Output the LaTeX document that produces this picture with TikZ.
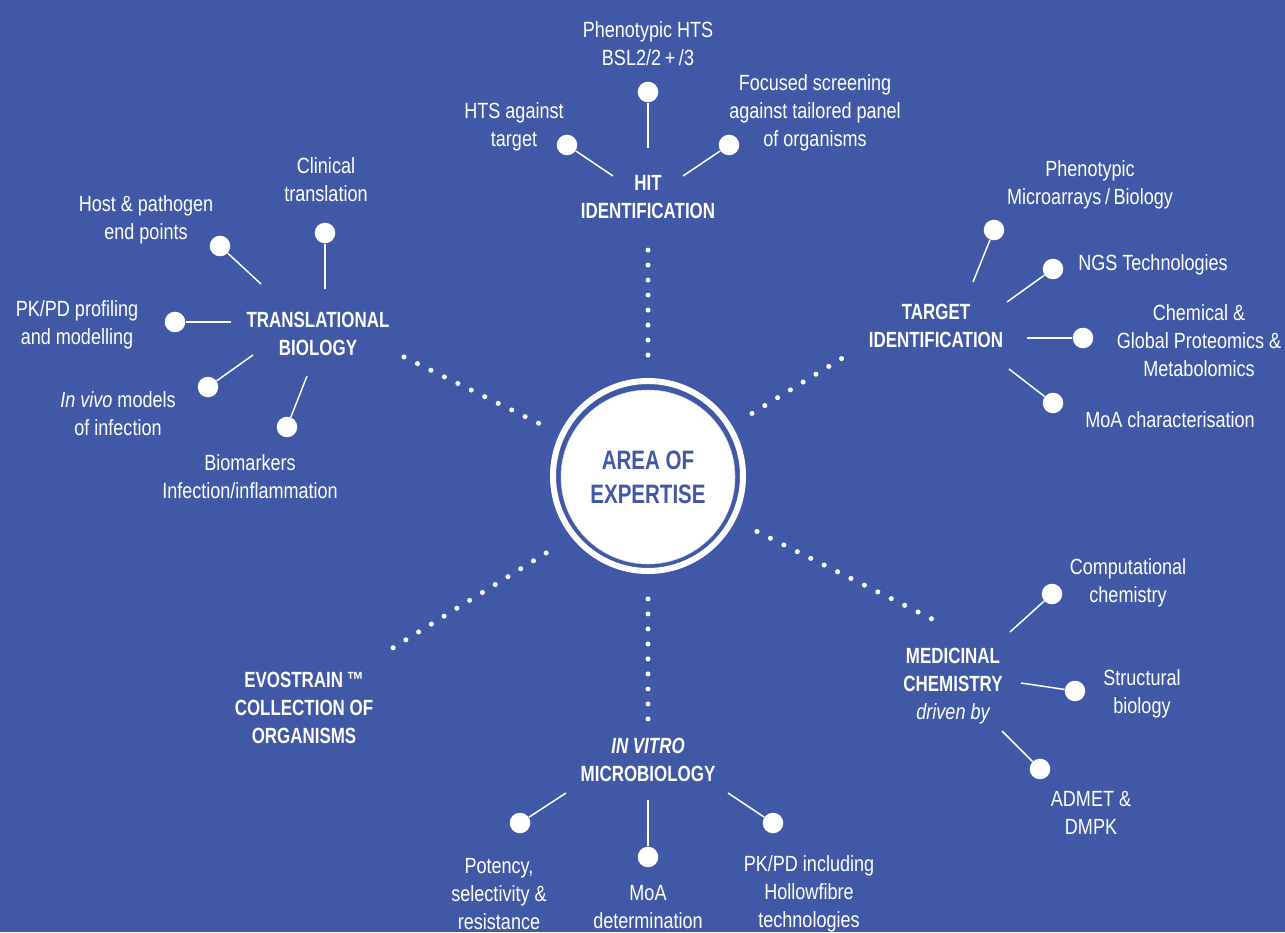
\documentclass[tikz,border=0pt]{standalone}
\usepackage{fontspec}
\setmainfont{Liberation Sans}[FakeStretch=0.82]
\newfontfamily\headfont{Liberation Sans}[FakeStretch=0.77]
\usetikzlibrary{positioning}
\definecolor{bgblue}{HTML}{4158A6}
\tikzset {
  x=0.75pt, y=-0.75pt,
  % leaf texts round a hub
  leaf/.style={text=white, align=center, inner sep=0pt, font=\fontsize{16.5}{21}\selectfont},
  % hub headings
  hub/.style={text=white, align=center, inner sep=0pt, font=\headfont\bfseries\fontsize{16.5}{21}\selectfont},
  % white bullet at the end of a spoke
  bullet/.style={circle, fill=white, minimum size=15.4pt, inner sep=0pt},
  spoke/.style={white, line width=1.1pt},
  % dotted ray from the core to a hub
  dotline/.style={white, line width=3.8pt, line cap=round, dash pattern=on 0pt off 11.25pt, shorten <=26pt},
}
\begin{document}
\begin{tikzpicture}
      \path[use as bounding box] (0,0) rectangle (1285,932);
      \fill[bgblue] (0,0) rectangle (1285,932);

      % core
      \node[circle, draw=white, line width=4.5pt, minimum size=142.5pt] (ring) at (648,476) {};
      \node[circle, fill=white, draw=bgblue!25, line width=0.4pt, minimum size=130.5pt, align=center,
            text=bgblue, font=\headfont\bfseries\fontsize{20}{25.5}\selectfont] (core) at (648,477) {AREA OF\\EXPERTISE};

      % hubs
      \node[hub] (hit) at (648,197) {HIT\\IDENTIFICATION};
      \node[hub] (target) at (936,326) {TARGET\\IDENTIFICATION};
      \node[hub] (transl) at (318,334) {TRANSLATIONAL\\BIOLOGY};
      \node[hub] (medchem) at (953,686) {MEDICINAL\\CHEMISTRY\\{\normalfont\itshape driven by}};
      \node[hub] (evo) at (304,708) {EVOSTRAIN\,™\\COLLECTION OF\\ORGANISMS};
      \node[hub] (vitro) at (648,760) {\itshape IN VITRO\\MICROBIOLOGY};

      % ends of the dotted rays
      \coordinate (hit-end) at (648,237);
      \coordinate (target-end) at (849,354);
      \coordinate (transl-end) at (402,356);
      \coordinate (medchem-end) at (942,624);
      \coordinate (evo-end) at (383,654);
      \coordinate (vitro-end) at (648,719);

      \draw[dotline] (core) -- (hit-end);
      \draw[dotline] (core) -- (target-end);
      \draw[dotline] (core) -- (transl-end);
      \draw[dotline] (core) -- (medchem-end);
      \draw[dotline, shorten <=30pt] (core.219) -- (evo-end);
      \draw[dotline] (core) -- (vitro-end);

      % hit identification
      \node[bullet] (hts) at (567,145) {};
      \node[bullet] (pheno) at (648,92) {};
      \node[bullet] (focus) at (729,145) {};
      \node[leaf] (hts-t) at (514,127) {HTS against\\target};
      \node[leaf] (pheno-t) at (648,44) {Phenotypic HTS\\BSL2/2\,+\,/3};
      \node[leaf] (focus-t) at (815,113) {Focused screening\\against tailored panel\\of organisms};
      \coordinate (hit-a) at (613,176);
      \coordinate (hit-b) at (648,148);
      \coordinate (hit-c) at (683,176);
      \draw[spoke] (hit-a) -- (hts);
      \draw[spoke] (hit-b) -- (pheno);
      \draw[spoke] (hit-c) -- (focus);

      % translational biology
      \node[bullet] (clin) at (325,233) {};
      \node[bullet] (host) at (220,246) {};
      \node[bullet] (pkpd) at (175,322) {};
      \node[bullet] (invivo) at (208,387) {};
      \node[bullet] (biom) at (287,427) {};
      \node[leaf] (clin-t) at (326,180) {Clinical\\translation};
      \node[leaf] (host-t) at (146,220) {Host \& pathogen\\end points};
      \node[leaf] (pkpd-t) at (77,325) {PK/PD profiling\\and modelling};
      \node[leaf] (invivo-t) at (118,414) {\textit{In vivo} models\\of infection};
      \node[leaf] (biom-t) at (250,477) {Biomarkers\\Infection/inflammation};
      \coordinate (transl-a) at (325,289);
      \coordinate (transl-b) at (261,284);
      \coordinate (transl-c) at (231,322);
      \coordinate (transl-d) at (253,355);
      \coordinate (transl-e) at (307,376);
      \draw[spoke] (transl-a) -- (clin);
      \draw[spoke] (transl-b) -- (host);
      \draw[spoke] (transl-c) -- (pkpd);
      \draw[spoke] (transl-d) -- (invivo);
      \draw[spoke] (transl-e) -- (biom);

      % target identification
      \node[bullet] (micro) at (994,230) {};
      \node[bullet] (ngs) at (1053,269) {};
      \node[bullet] (chem) at (1083,338) {};
      \node[bullet] (moac) at (1053,403) {};
      \node[leaf] (micro-t) at (1090,185) {Phenotypic\\Microarrays\,/\,Biology};
      \node[leaf] (ngs-t) at (1153,265) {NGS Technologies};
      \node[leaf] (chem-t) at (1199,341) {Chemical \&\\Global Proteomics \&\\Metabolomics};
      \node[leaf] (moac-t) at (1170,420) {MoA characterisation};
      \coordinate (target-a) at (973,282);
      \coordinate (target-b) at (1007,302);
      \coordinate (target-c) at (1027,338);
      \coordinate (target-d) at (1009,369);
      \draw[spoke] (target-a) -- (micro);
      \draw[spoke] (target-b) -- (ngs);
      \draw[spoke] (target-c) -- (chem);
      \draw[spoke] (target-d) -- (moac);

      % medicinal chemistry
      \node[bullet] (comp) at (1052,594) {};
      \node[bullet] (struct) at (1075,691) {};
      \node[bullet] (admet) at (1040,769) {};
      \node[leaf] (comp-t) at (1128,583) {Computational\\chemistry};
      \node[leaf] (struct-t) at (1142,694) {Structural\\biology};
      \node[leaf] (admet-t) at (1091,813) {ADMET \&\\DMPK};
      \coordinate (medchem-a) at (1010,632);
      \coordinate (medchem-b) at (1021,683);
      \coordinate (medchem-c) at (1002,731);
      \draw[spoke] (medchem-a) -- (comp);
      \draw[spoke] (medchem-b) -- (struct);
      \draw[spoke] (medchem-c) -- (admet);

      % in vitro microbiology
      \node[bullet] (pot) at (520,823) {};
      \node[bullet] (moad) at (648,857) {};
      \node[bullet] (hollow) at (773,823) {};
      \node[leaf] (pot-t) at (499,894) {Potency,\\selectivity \&\\resistance};
      \node[leaf] (moad-t) at (648,907) {MoA\\determination};
      \node[leaf] (hollow-t) at (809,894) {PK/PD including\\Hollowfibre\\technologies};
      \coordinate (vitro-a) at (566,793);
      \coordinate (vitro-b) at (648,800);
      \coordinate (vitro-c) at (728,793);
      \draw[spoke] (vitro-a) -- (pot);
      \draw[spoke] (vitro-b) -- (moad);
      \draw[spoke] (vitro-c) -- (hollow);
\end{tikzpicture}
\end{document}
